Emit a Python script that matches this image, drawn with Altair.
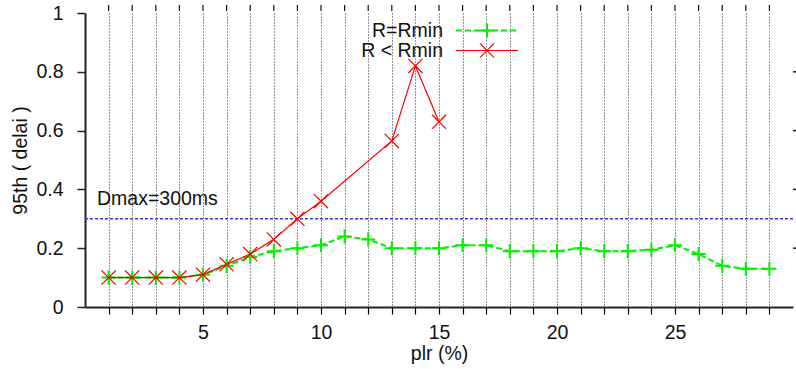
import altair as alt
import pandas as pd

# ---- data ----
plr_rmin = list(range(1, 30))
delay_rmin = [0.10, 0.10, 0.10, 0.10, 0.11, 0.14, 0.17, 0.19, 0.20, 0.21,
              0.24, 0.23, 0.20, 0.20, 0.20, 0.21, 0.21, 0.19, 0.19, 0.19,
              0.20, 0.19, 0.19, 0.195, 0.21, 0.18, 0.14, 0.13, 0.13]
plr_lt = [1, 2, 3, 4, 5, 6, 7, 8, 9, 10, 13, 14, 15]
delay_lt = [0.10, 0.10, 0.10, 0.10, 0.11, 0.145, 0.18, 0.23, 0.30, 0.36,
            0.565, 0.82, 0.63]
dmax_value = [0.3]
dmax_label = ["Dmax=300ms"]
x_ticks = list(range(1, 30))
y_ticks = [0, 0.2, 0.4, 0.6, 0.8, 1]
legend_labels = ["R=Rmin", "R < Rmin"]

FONT = "Liberation Sans"
FS = 19.5
GREEN = "#00f000"
RED = "#ff0000"
BLUE = "#3333ff"
PLUS = "M-1,0L1,0M0,-1L0,1"
XSHAPE = "M-1,-1L1,1M-1,1L1,-1"

df_g = pd.DataFrame({"plr": plr_rmin, "d": delay_rmin})
df_r = pd.DataFrame({"plr": plr_lt, "d": delay_lt})
df_h = pd.DataFrame({"d": dmax_value, "label": dmax_label})

xscale = alt.Scale(domain=[0, 30], nice=False, zero=False)
yscale = alt.Scale(domain=[0, 1], nice=False)

X_AXIS = alt.Axis(values=x_ticks, labelExpr="datum.value % 5 == 0 ? datum.value : ''",
                  grid=True, gridDash=[1, 2], gridColor="#000", gridWidth=1, gridOpacity=0.85,
                  tickSize=7, tickColor="#000", tickWidth=1.2,
                  domainColor="#222", domainWidth=2,
                  labelFont=FONT, labelFontSize=FS, labelColor="#111", labelPadding=9,
                  titleFont=FONT, titleFontSize=FS, titleFontWeight="normal", titleColor="#111",
                  titlePadding=3)
Y_AXIS = alt.Axis(values=y_ticks, format="~g", grid=False,
                  tickSize=8, tickColor="#222", tickWidth=1.5,
                  domainColor="#222", domainWidth=2,
                  labelFont=FONT, labelFontSize=FS, labelColor="#111", labelPadding=14,
                  titleFont=FONT, titleFontSize=FS, titleFontWeight="normal", titleColor="#111",
                  titlePadding=5)

XE = alt.X("plr:Q", scale=xscale, title="plr (%)", axis=X_AXIS)
YE = alt.Y("d:Q", scale=yscale, title="95th ( delai )", axis=Y_AXIS)

green_line = alt.Chart(df_g).mark_line(color=GREEN, strokeWidth=2, strokeDash=[6, 3]).encode(
    x=XE, y=YE)
green_pts = alt.Chart(df_g).mark_point(shape=PLUS, size=200, color=GREEN, strokeWidth=2,
                                       filled=False, opacity=1).encode(x=XE, y=YE)
red_line = alt.Chart(df_r).mark_line(color=RED, strokeWidth=1.2).encode(x=XE, y=YE)
red_pts = alt.Chart(df_r).mark_point(shape=XSHAPE, size=200, color=RED, strokeWidth=1.2,
                                     filled=False, opacity=1).encode(x=XE, y=YE)

dmax_rule = alt.Chart(df_h).mark_rule(color=BLUE, strokeWidth=1.5, strokeDash=[3, 2]).encode(
    y=YE)
dmax_text = alt.Chart(df_h).mark_text(align="left", baseline="middle", font=FONT, fontSize=FS,
                                      color="#111", dy=-20).encode(
    x=alt.value(12), y=YE, text="label:N")

# mirrored tick marks (top and right borders)
top_ticks = alt.Chart(pd.DataFrame({"plr": x_ticks})).mark_rule(color="#111", strokeWidth=1.2).encode(
    x=XE, y=alt.value(-8), y2=alt.value(-2))
right_ticks = alt.Chart(pd.DataFrame({"d": y_ticks[1:-1]})).mark_rule(color="#222", strokeWidth=1.5).encode(
    y=YE, x=alt.value(708), x2=alt.value(711))

# legend (decoration, pixel placed)
LG_Y = 17.5
LR_Y = 37.5
leg_txt_g = alt.Chart(pd.DataFrame({"label": [legend_labels[0]]})).mark_text(
    align="right", baseline="middle", font=FONT, fontSize=FS, color="#111").encode(
    x=alt.value(358), y=alt.value(LG_Y), text="label:N")
leg_txt_r = alt.Chart(pd.DataFrame({"label": [legend_labels[1]]})).mark_text(
    align="right", baseline="middle", font=FONT, fontSize=FS, color="#111").encode(
    x=alt.value(358), y=alt.value(LR_Y), text="label:N")
leg_g_line = alt.Chart(pd.DataFrame({"label": [legend_labels[0]]})).mark_rule(
    color=GREEN, strokeWidth=2, strokeDash=[6, 3]).encode(
    x=alt.value(371), x2=alt.value(433), y=alt.value(LG_Y))
leg_g_pt = alt.Chart(pd.DataFrame({"label": [legend_labels[0]]})).mark_point(
    shape=PLUS, size=200, color=GREEN, strokeWidth=2, filled=False, opacity=1).encode(
    x=alt.value(402), y=alt.value(LG_Y))
leg_r_line = alt.Chart(pd.DataFrame({"label": [legend_labels[1]]})).mark_rule(
    color=RED, strokeWidth=1.2).encode(
    x=alt.value(371), x2=alt.value(433), y=alt.value(LR_Y))
leg_r_pt = alt.Chart(pd.DataFrame({"label": [legend_labels[1]]})).mark_point(
    shape=XSHAPE, size=200, color=RED, strokeWidth=1.2, filled=False, opacity=1).encode(
    x=alt.value(402), y=alt.value(LR_Y))

chart = alt.layer(
    green_line, top_ticks, right_ticks, dmax_rule, dmax_text, green_pts, red_line, red_pts,
    leg_txt_g, leg_txt_r, leg_g_line, leg_g_pt, leg_r_line, leg_r_pt
).properties(
    width=708, height=294,
    autosize=alt.AutoSizeParams(type="none"),
    padding={"left": 85, "top": 13, "right": 3, "bottom": 62},
    background="white",
).configure_view(stroke=None, clip=False)

chart.save("out.html", embed_options={"renderer": "svg", "actions": False})
